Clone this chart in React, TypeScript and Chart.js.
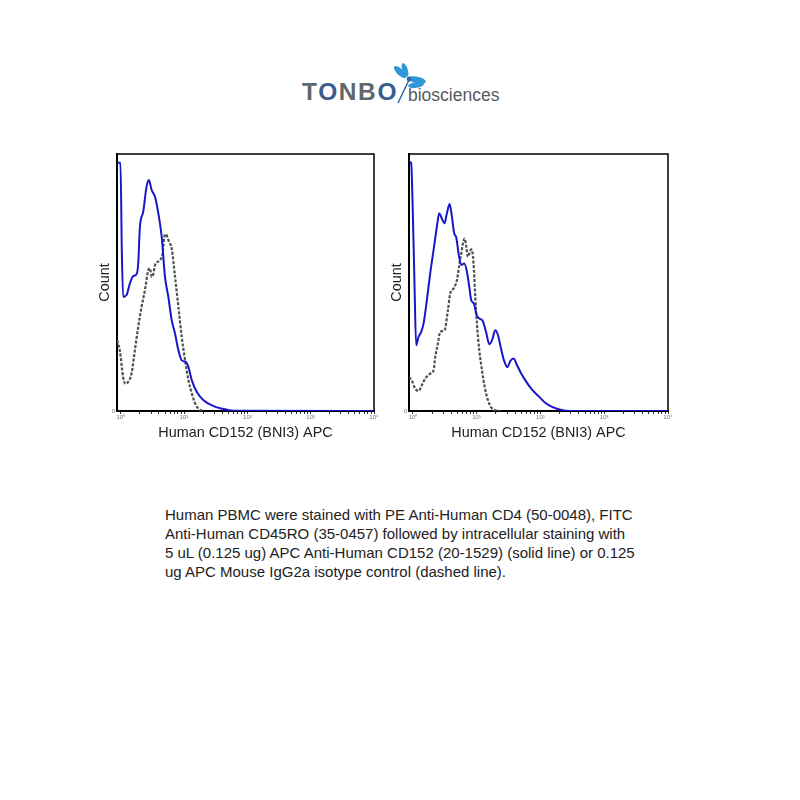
import React, { useEffect, useRef } from 'react';
import { Chart, registerables } from 'chart.js';

Chart.register(...registerables);

// ---- axis ticks ----
const MAJOR_DECADES = [0, 1, 2, 3, 4];
const TICK_LABELS = ['10⁰', '10¹', '10²', '10³', '10⁴'];
const MINOR_MULTIPLIERS = [2, 3, 4, 5, 6, 7, 8, 9];
const X_TITLE = 'Human CD152 (BNI3) APC';
const Y_TITLE = 'Count';

// ---- left panel (x in log10 decades, y in % of max count) ----
const leftSolidX = [-0.058, -0.005, 0.016, 0.037, 0.09, 0.143, 0.196, 0.249, 0.275, 0.302, 0.354, 0.407, 0.444, 0.487, 0.54, 0.593, 0.646, 0.698, 0.751, 0.804, 0.857, 0.91, 0.963, 1.026, 1.069, 1.122, 1.201, 1.307, 1.439, 1.598, 1.783, 4.0];
const leftSolidY = [96.6, 96.6, 62.6, 44.4, 45.1, 49.6, 52.5, 53.2, 57.4, 71.7, 77.5, 87.3, 89.9, 86.0, 83.4, 76.9, 67.8, 52.2, 44.4, 35.3, 30.1, 23.6, 19.7, 19.1, 17.1, 11.9, 7.4, 4.2, 2.2, 0.9, 0.1, 0];
const leftDashedX = [-0.058, -0.016, 0.037, 0.074, 0.116, 0.169, 0.222, 0.275, 0.328, 0.381, 0.434, 0.46, 0.487, 0.513, 0.54, 0.619, 0.661, 0.688, 0.709, 0.762, 0.804, 0.857, 0.91, 0.963, 1.016, 1.069, 1.122, 1.175, 1.238, 1.307];
const leftDashedY = [27.5, 23.6, 13.2, 10.6, 11.3, 14.5, 23.6, 32.7, 40.5, 47.0, 54.8, 55.5, 52.2, 53.2, 56.8, 58.7, 61.3, 67.8, 68.8, 65.8, 63.2, 52.2, 40.5, 28.8, 19.7, 11.9, 6.8, 2.9, 0.6, 0];

// ---- right panel ----
const rightSolidX = [-0.058, -0.026, -0.005, 0.026, 0.052, 0.089, 0.131, 0.168, 0.22, 0.272, 0.325, 0.377, 0.414, 0.455, 0.497, 0.534, 0.576, 0.613, 0.649, 0.681, 0.717, 0.759, 0.806, 0.848, 0.885, 0.916, 0.958, 1.0, 1.042, 1.094, 1.147, 1.199, 1.241, 1.293, 1.335, 1.377, 1.429, 1.482, 1.529, 1.581, 1.634, 1.686, 1.764, 1.869, 1.974, 2.079, 2.183, 2.314, 2.471, 4.0];
const rightSolidY = [97.0, 96.4, 82.1, 49.6, 25.6, 28.8, 30.8, 34.0, 43.1, 53.5, 62.6, 71.7, 76.9, 74.9, 73.0, 76.9, 80.5, 75.6, 69.1, 67.5, 61.3, 56.8, 57.4, 54.2, 48.3, 43.1, 41.8, 37.3, 36.0, 35.1, 30.8, 26.0, 27.5, 31.4, 29.5, 24.9, 19.7, 17.1, 19.5, 20.4, 17.8, 15.2, 11.9, 8.3, 5.7, 3.1, 1.6, 0.5, 0, 0];
const rightDashedX = [-0.058, -0.016, 0.037, 0.089, 0.141, 0.194, 0.272, 0.325, 0.351, 0.393, 0.429, 0.497, 0.55, 0.586, 0.639, 0.691, 0.728, 0.759, 0.785, 0.812, 0.838, 0.864, 0.885, 0.916, 0.942, 0.958, 0.979, 1.005, 1.042, 1.084, 1.126, 1.178, 1.23, 1.293, 1.372];
const rightDashedY = [13.2, 11.9, 8.7, 7.8, 10.0, 12.6, 14.5, 15.8, 21.0, 26.2, 30.8, 31.4, 39.2, 45.7, 47.7, 50.9, 56.8, 61.3, 65.2, 67.1, 63.9, 60.0, 61.3, 62.9, 60.3, 54.8, 44.4, 34.0, 23.6, 15.8, 9.4, 4.2, 1.3, 0.3, 0];

const CAPTION_LINES = [
  'Human PBMC were stained with PE Anti-Human CD4 (50-0048), FITC',
  'Anti-Human CD45RO (35-0457) followed by intracellular staining with',
  '5 uL (0.125 ug) APC Anti-Human CD152 (20-1529) (solid line) or 0.125',
  'ug APC Mouse IgG2a isotype control (dashed line).',
];

const FONT = "'Liberation Sans', Arial, sans-serif";

const framePlugin = {
  id: 'frame',
  afterDatasetsDraw(chart: any) {
    const { ctx, chartArea: a } = chart;
    ctx.save();
    ctx.strokeStyle = '#000';
    ctx.lineWidth = 1.5;
    ctx.beginPath();
    ctx.moveTo(a.left, a.top);
    ctx.lineTo(a.right, a.top);
    ctx.lineTo(a.right, a.bottom);
    ctx.stroke();
    ctx.restore();
  },
};

type PlotProps = {
  left: number;
  top: number;
  width: number;
  height: number;
  solidX: number[];
  solidY: number[];
  dashedX: number[];
  dashedY: number[];
};

function Histogram(p: PlotProps) {
  const ref = useRef<HTMLCanvasElement | null>(null);
  useEffect(() => {
    if (!ref.current) return;
    const chart = new Chart(ref.current, {
      type: 'line',
      data: {
        datasets: [
          {
            label: 'CD152',
            data: p.solidX.map((x, i) => ({ x, y: p.solidY[i] })),
            borderColor: '#1a16c8',
            borderWidth: 2,
            pointRadius: 0,
            fill: false,
            cubicInterpolationMode: 'monotone',
          },
          {
            label: 'Isotype',
            data: p.dashedX.map((x, i) => ({ x, y: p.dashedY[i] })),
            borderColor: '#505050',
            borderWidth: 2.2,
            borderDash: [3, 1.6],
            pointRadius: 0,
            fill: false,
            cubicInterpolationMode: 'monotone',
          },
        ],
      },
      options: {
        animation: false,
        responsive: false,
        devicePixelRatio: 1,
        layout: { padding: { left: 0, right: 10, top: 10, bottom: 0 } },
        plugins: { legend: { display: false }, tooltip: { enabled: false } },
        scales: {
          x: {
            type: 'linear',
            min: -0.06,
            max: 4.0,
            afterBuildTicks: (scale: any) => {
              const ticks: { value: number }[] = [];
              MAJOR_DECADES.forEach((d) => {
                ticks.push({ value: d });
                if (d < 4) MINOR_MULTIPLIERS.forEach((m) => ticks.push({ value: d + Math.log10(m) }));
              });
              scale.ticks = ticks;
            },
            afterFit: (scale: any) => {
              scale.height = 39;
            },
            ticks: {
              autoSkip: false,
              maxRotation: 0,
              padding: 0,
              color: '#777',
              font: { size: 6, family: FONT },
              callback: (v: any) => {
                const idx = MAJOR_DECADES.indexOf(Number(v));
                return idx >= 0 ? TICK_LABELS[idx] : '';
              },
            },
            grid: { display: true, drawOnChartArea: false, drawTicks: true, tickLength: 3, color: '#000', lineWidth: 0.8 },
            border: { display: true, color: '#000', width: 2 },
            title: {
              display: true,
              text: X_TITLE,
              color: '#222',
              font: { size: 14.4, family: FONT },
              padding: { top: 0, bottom: 8 },
            },
          },
          y: {
            type: 'linear',
            min: 0,
            max: 100,
            afterBuildTicks: (scale: any) => {
              scale.ticks = [{ value: 0 }];
            },
            afterFit: (scale: any) => {
              scale.width = 27;
            },
            ticks: {
              padding: 2,
              color: '#777',
              font: { size: 6, family: FONT },
              callback: () => '0',
            },
            grid: { display: false, drawTicks: false },
            border: { display: true, color: '#000', width: 2 },
            title: {
              display: true,
              text: Y_TITLE,
              color: '#222',
              font: { size: 14.4, family: FONT },
              padding: { top: 6, bottom: 0 },
            },
          },
        },
      },
      plugins: [framePlugin],
    } as any);
    return () => chart.destroy();
  }, []);
  return (
    <canvas
      ref={ref}
      width={p.width}
      height={p.height}
      style={{ position: 'absolute', left: p.left, top: p.top, width: p.width, height: p.height }}
    />
  );
}

function Logo() {
  return (
    <>
      <div
        style={{
          position: 'absolute',
          left: 302,
          top: 78,
          fontFamily: FONT,
          fontWeight: 'bold',
          fontSize: 24.5,
          letterSpacing: '1.6px',
          lineHeight: '28px',
          color: '#62666d',
        }}
      >
        T<span style={{ color: '#3a5c8c' }}>O</span>NB<span style={{ color: '#3a5c8c' }}>O</span>
      </div>
      <svg style={{ position: 'absolute', left: 390, top: 62 }} width={40} height={45}>
        <g fill="#2f96d8">
          <ellipse cx={10} cy={10} rx={8} ry={3.2} transform="rotate(45 10 10)" />
          <ellipse cx={15} cy={8} rx={7} ry={2.8} transform="rotate(72 15 8)" />
          <ellipse cx={27} cy={18} rx={9} ry={3.4} transform="rotate(12 27 18)" />
          <ellipse cx={26} cy={23} rx={8} ry={2.8} transform="rotate(-8 26 23)" />
          <circle cx={19} cy={17} r={2.4} fill="#2a6aa8" />
        </g>
        <line x1={19} y1={18} x2={8} y2={41} stroke="#2a5f98" strokeWidth={1.4} />
      </svg>
      <div
        style={{
          position: 'absolute',
          left: 408,
          top: 84,
          fontFamily: FONT,
          fontSize: 17.5,
          lineHeight: '22px',
          color: '#555a60',
        }}
      >
        biosciences
      </div>
    </>
  );
}

export default function App() {
  return (
    <div style={{ position: 'absolute', left: 0, top: 0, width: 800, height: 800, background: '#fff' }}>
      <Logo />
      <Histogram left={90} top={144} width={294} height={306} solidX={leftSolidX} solidY={leftSolidY} dashedX={leftDashedX} dashedY={leftDashedY} />
      <Histogram left={382} top={144} width={296} height={306} solidX={rightSolidX} solidY={rightSolidY} dashedX={rightDashedX} dashedY={rightDashedY} />
      <div
        style={{
          position: 'absolute',
          left: 165,
          top: 505,
          fontFamily: FONT,
          fontSize: 15,
          lineHeight: '19.1px',
          color: '#222',
          whiteSpace: 'pre',
        }}
      >
        {CAPTION_LINES.join('\n')}
      </div>
    </div>
  );
}
